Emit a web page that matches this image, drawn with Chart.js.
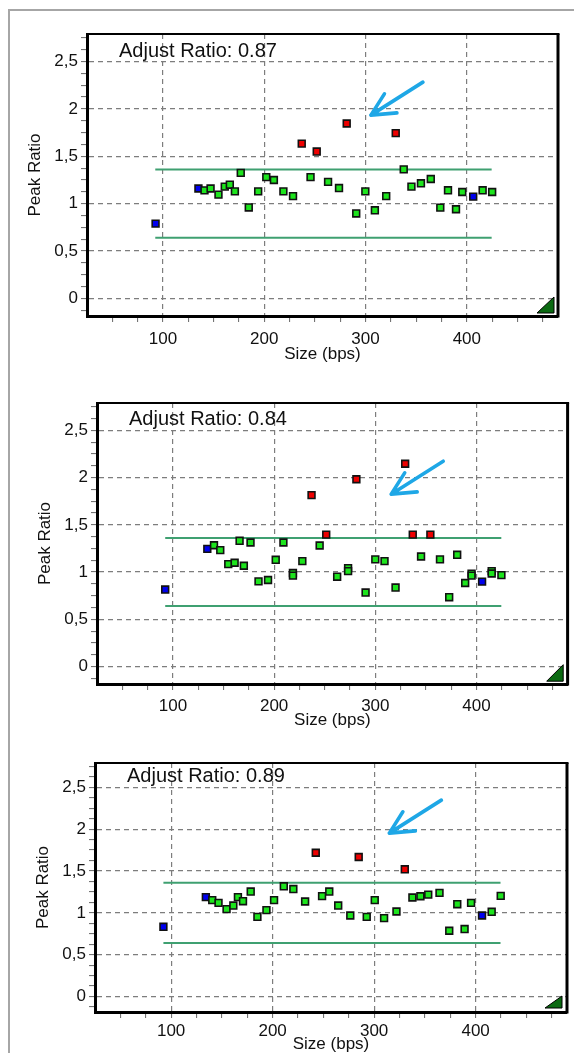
<!DOCTYPE html>
<html><head><meta charset="utf-8">
<script src="https://cdn.jsdelivr.net/npm/chart.js@4.4.0/dist/chart.umd.min.js"></script>
<style>
html,body{margin:0;padding:0;background:#fff;width:574px;height:1053px;overflow:hidden;}
#frame{position:absolute;left:8px;top:9px;width:620px;height:1100px;border-left:2px solid #a6a6a6;border-top:2px solid #a6a6a6;}
canvas{position:absolute;left:0;}
</style></head><body>
<div id="frame"></div>
<canvas id="c1" width="574" height="372" style="top:0px"></canvas>
<canvas id="c2" width="574" height="362" style="top:372px"></canvas>
<canvas id="c3" width="574" height="330" style="top:730px"></canvas>
<script>
// ---------- data ----------
const panelTitles = ['Adjust Ratio: 0.87', 'Adjust Ratio: 0.84', 'Adjust Ratio: 0.89'];
const xAxisTitle = 'Size (bps)';
const yAxisTitle = 'Peak Ratio';
const xTickValues = [100, 200, 300, 400];
const xTickLabels = ['100', '200', '300', '400'];
const yTickValues = [0, 0.5, 1, 1.5, 2, 2.5];
const yTickLabels = ['0', '0,5', '1', '1,5', '2', '2,5'];
const upperLimit = 1.36;
const lowerLimit = 0.64;
const limitRange = [92.4, 424.5];

// b = blue, g = green, r = red
const p1Size  = [92.7, 135, 141, 147, 154.8, 161, 166, 171, 176.8, 184.7, 194, 202, 209.5, 218.9, 228.4, 237, 245.7, 251.8, 263, 273.8, 281.4, 290.8, 299.8, 309.2, 320.4, 329.8, 337.7, 345.3, 354.7, 364.4, 373.8, 381.4, 389.3, 395.5, 406.3, 415.6, 425];
const p1Ratio = [0.79, 1.16, 1.14, 1.16, 1.095, 1.18, 1.2, 1.13, 1.325, 0.96, 1.13, 1.28, 1.25, 1.13, 1.08, 1.634, 1.28, 1.55, 1.23, 1.165, 1.846, 0.897, 1.13, 0.93, 1.08, 1.744, 1.362, 1.18, 1.215, 1.26, 0.958, 1.141, 0.941, 1.123, 1.074, 1.141, 1.123];
const p1Call  = ['b','b','g','g','g','g','g','g','g','g','g','g','g','g','g','r','g','r','g','g','r','g','g','g','g','r','g','g','g','g','g','g','g','g','b','g','g'];

const p2Size  = [92.4, 134, 140.6, 146.8, 154.7, 161, 165.9, 170.1, 176.7, 184.6, 194, 201.6, 209.2, 218.6, 218.6, 227.9, 237, 245, 251.5, 262.3, 273.1, 273.1, 281.3, 290.4, 300, 309.1, 320, 329.5, 337, 345.2, 354.4, 363.9, 373, 380.9, 388.8, 395.1, 395.1, 405.5, 415, 415, 424.6];
const p2Ratio = [0.815, 1.246, 1.284, 1.232, 1.084, 1.099, 1.331, 1.067, 1.313, 0.902, 0.916, 1.13, 1.313, 0.99, 0.962, 1.116, 1.815, 1.281, 1.397, 0.951, 1.042, 1.01, 1.983, 0.783, 1.134, 1.116, 0.836, 2.147, 1.397, 1.165, 1.397, 1.134, 0.734, 1.183, 0.884, 0.983, 0.962, 0.899, 1.01, 0.985, 0.968];
const p2Call  = ['b','b','g','g','g','g','g','g','g','g','g','g','g','g','g','g','r','g','r','g','g','g','r','g','g','g','g','r','r','g','r','g','g','g','g','g','g','b','g','g','g'];

const p3Size  = [92.4, 134.2, 140.5, 146.7, 154.6, 161.3, 165.8, 170.8, 178.4, 185, 193.9, 201.4, 211, 220.4, 232, 242.5, 248.7, 255.8, 264.6, 276.5, 284.8, 292.7, 300.6, 309.8, 322, 330.2, 337.7, 345.6, 353.3, 364.4, 374, 381.9, 389.1, 395.5, 406.3, 415.8, 424.7];
const p3Ratio = [0.833, 1.187, 1.151, 1.119, 1.044, 1.087, 1.187, 1.139, 1.254, 0.952, 1.032, 1.151, 1.317, 1.284, 1.135, 1.718, 1.2, 1.254, 1.087, 0.968, 1.667, 0.952, 1.151, 0.937, 1.016, 1.52, 1.183, 1.198, 1.218, 1.238, 0.786, 1.103, 0.806, 1.119, 0.968, 1.012, 1.202];
const p3Call  = ['b','b','g','g','g','g','g','g','g','g','g','g','g','g','g','r','g','g','g','g','r','g','g','g','g','r','g','g','g','g','g','g','g','g','b','g','g'];

// arrow tips (data coordinates) per panel
const arrowTips = [[305.3, 1.934], [315.7, 1.825], [315, 1.952]];

// ---------- styling / layout ----------
const FONT = '"Liberation Sans", Arial, sans-serif';
const callColors = { g: '#1de41d', r: '#ee0000', b: '#0000ee' };
const xMin = 25, xMax = 490, yMin = -0.185, yMax = 2.79;

const xTicks = []; for (let v = 50; v <= 475; v += 25) xTicks.push(v);
const yTicks = []; for (let k = -1; k <= 22; k++) yTicks.push(k * 0.125);

const isMajorX = v => xTickValues.indexOf(v) >= 0;
const isMajorY = v => yTickValues.some(t => Math.abs(t - v) < 1e-9);

const panelDecor = {
  id: 'panelDecor',
  afterDraw(chart, args, o) {
    const { ctx, chartArea: a, scales: { x, y } } = chart;
    ctx.save();
    ctx.strokeStyle = '#000';
    ctx.lineWidth = 2;
    ctx.beginPath(); ctx.moveTo(a.left, a.top); ctx.lineTo(a.right + 1.5, a.top); ctx.stroke();
    ctx.lineWidth = 3;
    ctx.beginPath(); ctx.moveTo(a.right, a.top); ctx.lineTo(a.right, a.bottom + 1.5); ctx.stroke();
    const tr = o.tri;
    const rx = a.right - tr.dx, by = a.bottom - tr.dy;
    ctx.beginPath();
    ctx.moveTo(rx, by - tr.h); ctx.lineTo(rx, by); ctx.lineTo(rx - tr.w, by); ctx.closePath();
    ctx.fillStyle = '#0b6a12'; ctx.fill();
    ctx.lineWidth = 1; ctx.strokeStyle = '#000'; ctx.stroke();
    ctx.font = '20px ' + FONT;
    ctx.fillStyle = '#111';
    ctx.textAlign = 'left'; ctx.textBaseline = 'alphabetic';
    ctx.fillText(o.title, a.left + 32, a.top + o.titleDy);
    const tx = x.getPixelForValue(o.tip[0]), ty = y.getPixelForValue(o.tip[1]);
    ctx.strokeStyle = '#1ea7e6';
    ctx.lineWidth = 3.6; ctx.lineCap = 'round'; ctx.lineJoin = 'round';
    ctx.beginPath();
    ctx.moveTo(tx + 52, ty - 33); ctx.lineTo(tx, ty);
    ctx.moveTo(tx + 13.5, ty - 21.3); ctx.lineTo(tx, ty); ctx.lineTo(tx + 26, ty - 2.3);
    ctx.stroke();
    ctx.restore();
  }
};

function makePanel(id, sizes, ratios, calls, P) {
  const canvas = document.getElementById(id);
  const W = canvas.width, H = canvas.height;
  const yAxisW = 62;
  const pts = sizes.map((s, i) => ({ x: s, y: ratios[i] }));
  new Chart(canvas, {
    type: 'scatter',
    data: {
      datasets: [
        { type: 'scatter', data: pts, pointStyle: 'rect', pointRadius: 4.8, pointBorderWidth: 1.6,
          pointBorderColor: '#111', pointBackgroundColor: calls.map(c => callColors[c]), order: 0 },
        { type: 'line', data: [{ x: limitRange[0], y: upperLimit }, { x: limitRange[1], y: upperLimit }],
          borderColor: '#3fa071', borderWidth: 2, pointRadius: 0, order: 1 },
        { type: 'line', data: [{ x: limitRange[0], y: lowerLimit }, { x: limitRange[1], y: lowerLimit }],
          borderColor: '#3fa071', borderWidth: 2, pointRadius: 0, order: 1 }
      ]
    },
    options: {
      responsive: false, animation: false, devicePixelRatio: 1,
      layout: { padding: { left: P.left - yAxisW, top: P.top, right: W - P.right, bottom: H - P.bottom - P.xAxisH } },
      plugins: { legend: { display: false }, tooltip: { enabled: false },
        panelDecor: { title: P.title, titleDy: P.titleDy, tip: P.tip, tri: P.tri } },
      scales: {
        x: {
          type: 'linear', min: xMin, max: xMax, bounds: 'data',
          afterBuildTicks: s => { s.ticks = xTicks.map(v => ({ value: v })); },
          afterFit: s => { s.height = P.xAxisH; },
          ticks: { autoSkip: false, maxRotation: 0, minRotation: 0, padding: P.xTickPad, color: '#111',
            font: { family: FONT, size: 17 },
            callback: v => { const i = xTickValues.indexOf(v); return i >= 0 ? xTickLabels[i] : ''; } },
          grid: { color: c => (c.tick && isMajorX(c.tick.value)) ? '#7d7d7d' : 'rgba(0,0,0,0)',
            lineWidth: 1.2, tickLength: 6, tickColor: '#666', tickWidth: 1 },
          border: { display: true, color: '#000', width: 3, dash: [5, 4] },
          title: { display: true, text: xAxisTitle, color: '#111', font: { family: FONT, size: 17 }, padding: 0 }
        },
        y: {
          type: 'linear', min: yMin, max: yMax, bounds: 'data',
          afterBuildTicks: s => { s.ticks = yTicks.map(v => ({ value: v })); },
          afterFit: s => { s.width = yAxisW; },
          ticks: { autoSkip: false, padding: 3, color: '#111', font: { family: FONT, size: 17 },
            callback: v => { const i = yTickValues.findIndex(t => Math.abs(t - v) < 1e-9); return i >= 0 ? yTickLabels[i] : ''; } },
          grid: { color: c => (c.tick && isMajorY(c.tick.value)) ? '#7d7d7d' : 'rgba(0,0,0,0)',
            lineWidth: 1.2, tickLength: 6, tickColor: '#666', tickWidth: 1 },
          border: { display: true, color: '#000', width: 3, dash: [5, 4] },
          title: { display: true, text: yAxisTitle, color: '#111', font: { family: FONT, size: 17 }, padding: 0 }
        }
      }
    },
    plugins: [panelDecor]
  });
}

makePanel('c1', p1Size, p1Ratio, p1Call, { left: 87, top: 34, right: 558, bottom: 316, xAxisH: 48.2, xTickPad: 7,
  title: panelTitles[0], titleDy: 22.7, tip: arrowTips[0], tri: { w: 17, h: 16, dx: 4, dy: 3 } });
makePanel('c2', p2Size, p2Ratio, p2Call, { left: 97, top: 31, right: 568, bottom: 312, xAxisH: 46.7, xTickPad: 6,
  title: panelTitles[1], titleDy: 21.8, tip: arrowTips[1], tri: { w: 16.5, h: 16.5, dx: 4.4, dy: 2.8 } });
makePanel('c3', p3Size, p3Ratio, p3Call, { left: 95, top: 33, right: 567, bottom: 282, xAxisH: 42.5, xTickPad: 3,
  title: panelTitles[2], titleDy: 19.3, tip: arrowTips[2], tri: { w: 17, h: 12, dx: 5, dy: 4 } });
</script>
</body></html>
